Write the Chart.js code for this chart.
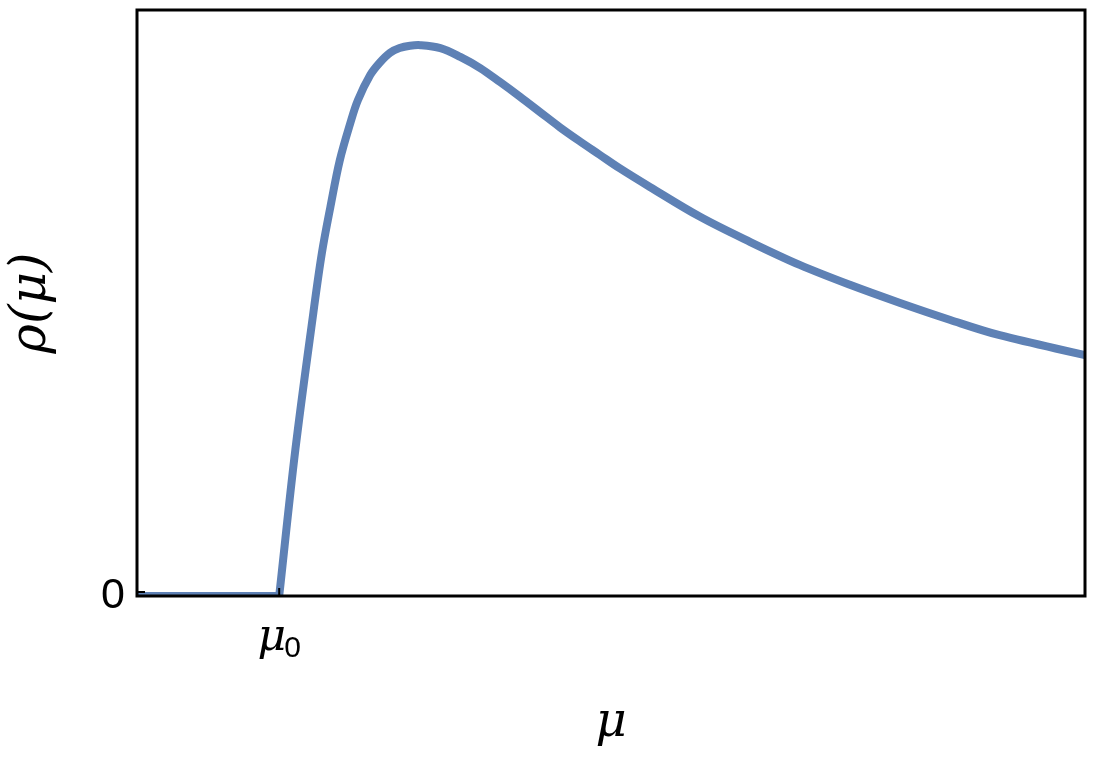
<!DOCTYPE html>
<html>
<head>
<meta charset="utf-8">
<script src="https://cdn.jsdelivr.net/npm/chart.js@4"></script>
<style>
  html, body { margin: 0; padding: 0; background: #fff; }
  #wrap { width: 1098px; height: 764px; }
</style>
</head>
<body>
<div id="wrap"><canvas id="rhoChart"></canvas></div>
<script>
// threshold value on the x axis
const mu0 = 1.5;

// flat part, rho = 0 below mu0
const flatX = [0, 1.5];
const flatY = [0, 0];

// curve above mu0
const curveX = [1.5, 1.67, 1.86, 1.95, 2.04, 2.14, 2.25, 2.33, 2.46, 2.56, 2.67, 2.77, 2.88, 2.99, 3.20, 3.41, 3.62, 3.83, 4.04, 4.25, 4.46, 4.67, 4.88, 5.09, 5.41, 5.94, 6.47, 6.99, 7.52, 8.05, 8.58, 9.10, 10.0];
const curveY = [0, 0.249, 0.483, 0.585, 0.664, 0.744, 0.807, 0.846, 0.889, 0.910, 0.927, 0.935, 0.939, 0.940, 0.935, 0.920, 0.901, 0.877, 0.852, 0.826, 0.800, 0.776, 0.753, 0.730, 0.698, 0.647, 0.604, 0.565, 0.531, 0.500, 0.471, 0.445, 0.411];

const yTicks = [0];
const yTickLabels = ['0'];

const lineColor = 'rgb(94, 129, 181)';

const toPoints = (xs, ys) => xs.map((x, i) => ({ x: x, y: ys[i] }));

// frame round the plot + inward ticks + the mu_0 label
const framePlugin = {
    id: 'frame',
    afterDatasetsDraw(chart) {
        const { ctx, chartArea: a, scales } = chart;
        ctx.save();
        ctx.strokeStyle = '#000';
        ctx.lineWidth = 3;
        ctx.strokeRect(a.left, a.top, a.right - a.left, a.bottom - a.top);

        // small ticks pointing into the plot
        ctx.lineWidth = 2;
        ctx.beginPath();
        const xp = scales.x.getPixelForValue(mu0);
        ctx.moveTo(xp, a.bottom);
        ctx.lineTo(xp, a.bottom - 8);
        const yp = scales.y.getPixelForValue(0);
        ctx.moveTo(a.left, yp - 4);
        ctx.lineTo(a.left + 8, yp - 4);
        ctx.stroke();

        // mu_0 tick label
        ctx.fillStyle = '#000';
        ctx.textBaseline = 'alphabetic';
        ctx.font = 'italic 44px "DejaVu Serif"';
        const w1 = ctx.measureText('μ').width;
        ctx.font = '30px "Liberation Sans"';
        const w2 = ctx.measureText('0').width;
        let x0 = xp - (w1 + w2) / 2 + 1;
        ctx.font = 'italic 44px "DejaVu Serif"';
        ctx.fillText('μ', x0, 650);
        ctx.font = '30px "Liberation Sans"';
        ctx.fillText('0', x0 + w1 - 2, 657);
        ctx.restore();
    }
};

const ctx = document.getElementById('rhoChart').getContext('2d');
const rhoChart = new Chart(ctx, {
    type: 'scatter',
    data: {
        datasets: [{
            data: toPoints(flatX, flatY),
            showLine: true,
            borderColor: lineColor,
            borderWidth: 8,
            pointRadius: 0,
            tension: 0,
            clip: 0
        }, {
            data: toPoints(curveX, curveY),
            showLine: true,
            borderColor: lineColor,
            borderWidth: 8,
            pointRadius: 0,
            tension: 0.35,
            clip: 0
        }]
    },
    options: {
        responsive: true,
        maintainAspectRatio: false,
        animation: false,
        layout: { autoPadding: false, padding: { top: 10, right: 13, left: 0, bottom: 0 } },
        plugins: { legend: { display: false }, tooltip: { enabled: false } },
        scales: {
            x: {
                type: 'linear',
                min: 0,
                max: 10,
                afterBuildTicks: scale => { scale.ticks = [{ value: mu0 }]; },
                afterFit: scale => { scale.height = 168; },
                ticks: { callback: () => '' },
                grid: { display: false },
                border: { display: false },
                title: {
                    display: true,
                    text: 'μ',
                    color: '#000',
                    font: { family: '"DejaVu Serif"', style: 'italic', size: 48 },
                    padding: { top: 0, bottom: 12 }
                }
            },
            y: {
                type: 'linear',
                min: 0,
                max: 1,
                afterBuildTicks: scale => { scale.ticks = yTicks.map(v => ({ value: v })); },
                afterFit: scale => { scale.width = 137; scale.paddingTop = 0; scale.paddingBottom = 0; },
                ticks: {
                    color: '#000',
                    padding: 12,
                    font: { family: '"Liberation Sans"', size: 43, lineHeight: 0.1 },
                    callback: (v, i) => yTickLabels[i]
                },
                grid: { display: false, drawTicks: false },
                border: { display: false },
                title: {
                    display: true,
                    text: 'ρ(μ)',
                    color: '#000',
                    font: { family: '"DejaVu Serif"', style: 'italic', size: 50 },
                    padding: { top: 2, bottom: 0 }
                }
            }
        }
    },
    plugins: [framePlugin]
});
</script>
</body>
</html>
